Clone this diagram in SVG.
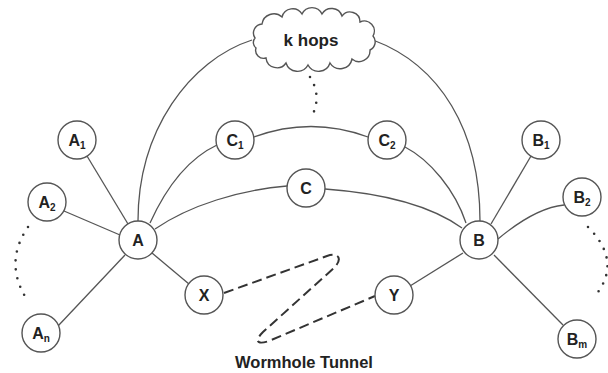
<svg xmlns="http://www.w3.org/2000/svg" width="608" height="373" viewBox="0 0 608 373">
<style>
.n{fill:#fff;stroke:#555;stroke-width:1.4}
.e{fill:none;stroke:#555;stroke-width:1.3}
.d{fill:none;stroke:#333;stroke-width:2.6;stroke-linecap:round;stroke-dasharray:0 9}
.w{fill:none;stroke:#333;stroke-width:2;stroke-dasharray:10 5}
.t{font-family:"Liberation Sans",Arial,sans-serif;font-weight:bold;font-size:16px;fill:#222;text-anchor:middle}
.s{font-size:10px}
</style>
<rect width="608" height="373" fill="#fff"/>
<g id="connectors">
<path class="e" d="M138,221 C138,130 190,60 252,40"/>
<path class="e" d="M373,40 C440,65 480,130 480,221"/>
<path class="e" d="M150,223 C165,190 185,160 217,145"/>
<path class="e" d="M254,137 Q311,116 368,137"/>
<path class="e" d="M405,147 C430,160 455,190 466,223"/>
<path class="e" d="M155,229 C190,205 240,190 287,186"/>
<path class="e" d="M325,189 C380,193 430,205 462,228"/>
<line class="e" x1="87" y1="156" x2="128" y2="224"/>
<line class="e" x1="64" y1="211" x2="120" y2="235"/>
<line class="e" x1="58" y1="326" x2="125" y2="255"/>
<line class="e" x1="152" y1="253" x2="189" y2="284"/>
<line class="e" x1="531" y1="156" x2="491" y2="224"/>
<path class="e" d="M564,205 Q535,208 498,239"/>
<line class="e" x1="410" y1="286" x2="463" y2="253"/>
<line class="e" x1="563" y1="325" x2="494" y2="255"/>
<path class="w" d="M224,293 L327,256 C339,252 342,259 335,267 L263,332 C254,341 257,345 269,341 L375,296"/>
<path class="d" d="M28,227 Q4,262 26,298"/>
<path class="d" d="M588,227 Q623,262 595,296"/>
<path class="d" d="M310,77 Q322,96 312,116"/>
</g>
<g id="khops">
<path class="n" d="M255,38 A9,9 0 0,1 262,24 A12,12 0 0,1 282,17 A11,11 0 0,1 302,14 A11,11 0 0,1 322,14 A11,11 0 0,1 342,16 A10,10 0 0,1 360,22 A10,10 0 0,1 373,36 A9,9 0 0,1 370,50 A11,11 0 0,1 352,59 A12,12 0 0,1 330,63 A12,12 0 0,1 308,65 A12,12 0 0,1 286,63 A11,11 0 0,1 266,58 A8,8 0 0,1 256,48 A7,7 0 0,1 255,38 Z"/>
<text class="t" x="311" y="46" style="font-size:17px">k hops</text>
</g>
<g id="A"><circle class="n" cx="138" cy="240" r="19"/><text class="t" x="138" y="246">A</text></g>
<g id="B"><circle class="n" cx="479" cy="240" r="19"/><text class="t" x="479" y="246">B</text></g>
<g id="C"><circle class="n" cx="306" cy="188" r="19"/><text class="t" x="306" y="194">C</text></g>
<g id="X"><circle class="n" cx="204" cy="295" r="19"/><text class="t" x="204" y="301">X</text></g>
<g id="Y"><circle class="n" cx="394" cy="295" r="19"/><text class="t" x="394" y="301">Y</text></g>
<g id="A1"><circle class="n" cx="77" cy="140" r="19"/><text class="t" x="77" y="146">A<tspan class="s" dy="3">1</tspan></text></g>
<g id="A2"><circle class="n" cx="47" cy="202" r="19"/><text class="t" x="47" y="208">A<tspan class="s" dy="3">2</tspan></text></g>
<g id="An"><circle class="n" cx="41" cy="333" r="19"/><text class="t" x="41" y="339">A<tspan class="s" dy="3">n</tspan></text></g>
<g id="C1"><circle class="n" cx="235" cy="140" r="19"/><text class="t" x="235" y="146">C<tspan class="s" dy="3">1</tspan></text></g>
<g id="C2"><circle class="n" cx="387" cy="140" r="19"/><text class="t" x="387" y="146">C<tspan class="s" dy="3">2</tspan></text></g>
<g id="B1"><circle class="n" cx="541" cy="140" r="19"/><text class="t" x="541" y="146">B<tspan class="s" dy="3">1</tspan></text></g>
<g id="B2"><circle class="n" cx="582" cy="197" r="19"/><text class="t" x="582" y="203">B<tspan class="s" dy="3">2</tspan></text></g>
<g id="Bm"><circle class="n" cx="577" cy="339" r="19"/><text class="t" x="577" y="345">B<tspan class="s" dy="3">m</tspan></text></g>
<text class="t" x="304" y="368" style="font-size:16.5px">Wormhole Tunnel</text>
</svg>
